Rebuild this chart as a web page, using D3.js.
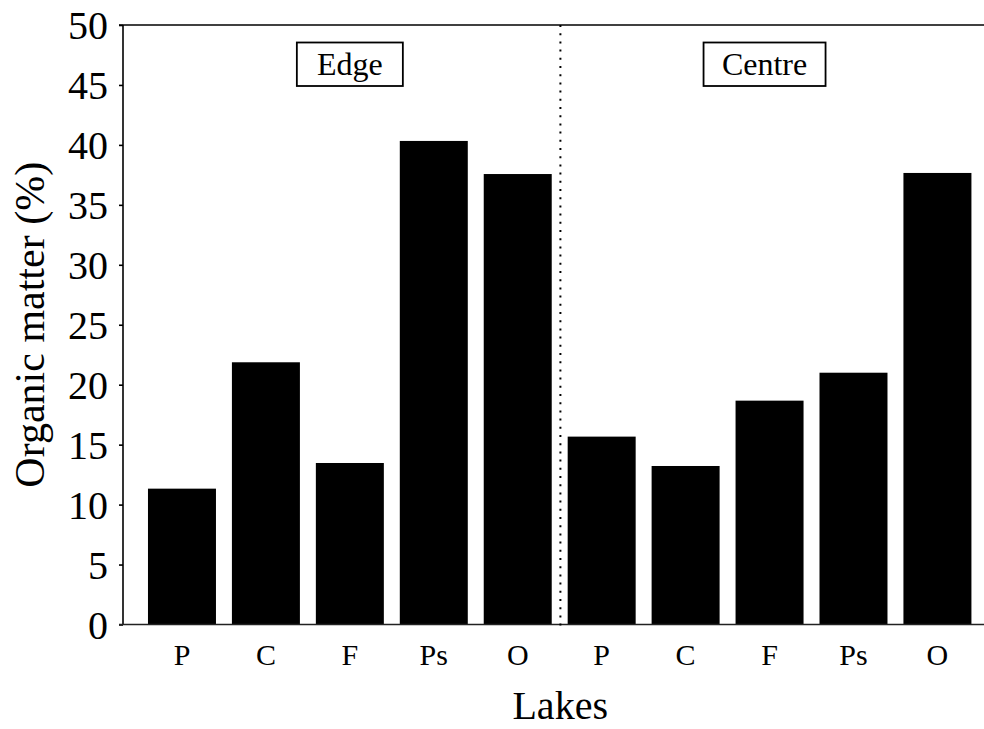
<!DOCTYPE html>
<html>
<head>
<meta charset="utf-8">
<script src="https://cdn.jsdelivr.net/npm/d3@7"></script>
<style>
  html, body { margin: 0; padding: 0; background: #fff; }
  svg { display: block; }
  svg text { font-family: "Liberation Serif", "Times New Roman", serif; }
</style>
</head>
<body>
<svg id="chart" width="984" height="729"></svg>
<script>
// ---- data ----
const lakes = ["P", "C", "F", "Ps", "O"];
const groups = ["Edge", "Centre"];
const edgeValues = [11.33, 21.87, 13.47, 40.33, 37.57];
const centreValues = [15.67, 13.22, 18.67, 21.0, 37.66];
const yTicks = [0, 5, 10, 15, 20, 25, 30, 35, 40, 45, 50];
const yTitle = "Organic matter (%)";
const xTitle = "Lakes";

(function () {
const rows = [];
lakes.forEach((l, i) => rows.push({ key: "Edge-" + l, group: "Edge", lake: l, value: edgeValues[i] }));
lakes.forEach((l, i) => rows.push({ key: "Centre-" + l, group: "Centre", lake: l, value: centreValues[i] }));

const svg = d3.select("#chart");
const axisLeft = 123, axisRight = 984, plotTop = 25, plotBottom = 624.5;

const x = d3.scaleBand()
  .domain(rows.map(d => d.key))
  .range([140, 979.4])
  .paddingInner(0.19)
  .paddingOuter(0.095);

const y = d3.scaleLinear().domain([0, 50]).range([plotBottom, plotTop]);

// bars
svg.append("g").selectAll("rect").data(rows).join("rect")
  .attr("x", d => x(d.key))
  .attr("y", d => y(d.value))
  .attr("width", x.bandwidth())
  .attr("height", d => y(0) - y(d.value))
  .attr("fill", "#000");

// y axis
const yAxis = svg.append("g")
  .attr("transform", `translate(${axisLeft},0)`)
  .call(d3.axisLeft(y).tickValues(yTicks).tickSize(4).tickPadding(11).tickFormat(d3.format("d")));
yAxis.attr("font-family", null);
yAxis.select(".domain").attr("stroke", "#000").attr("stroke-width", 1.6)
  .attr("d", `M0,${plotTop}V${plotBottom}`);
yAxis.selectAll(".tick line").attr("stroke", "#000").attr("stroke-width", 1.6);
yAxis.selectAll(".tick text")
  .style("font-family", "'Liberation Serif', 'Times New Roman', serif")
  .attr("font-size", 40)
  .attr("fill", "#000")
  .attr("dy", "0.34em");

// top line & bottom line
svg.append("line").attr("x1", axisLeft - 4).attr("x2", axisRight).attr("y1", plotTop).attr("y2", plotTop)
  .attr("stroke", "#000").attr("stroke-width", 1.6);
svg.append("line").attr("x1", axisLeft - 4).attr("x2", axisRight).attr("y1", plotBottom).attr("y2", plotBottom)
  .attr("stroke", "#222").attr("stroke-width", 1.6);

// x category labels
svg.append("g").selectAll("text").data(rows).join("text")
  .attr("x", d => x(d.key) + x.bandwidth() / 2)
  .attr("y", 665)
  .attr("text-anchor", "middle")
  .attr("font-size", 30)
  .attr("fill", "#000")
  .text(d => d.lake);

// dotted divider
const lastEdge = x("Edge-O") + x.bandwidth();
const firstCentre = x("Centre-P");
const divX = (lastEdge + firstCentre) / 2 + 0.7;
svg.append("line")
  .attr("x1", divX).attr("x2", divX)
  .attr("y1", plotTop).attr("y2", plotBottom + 3)
  .attr("stroke", "#000").attr("stroke-width", 2)
  .attr("stroke-dasharray", "2,6.2");

// group labels in boxes
const groupBoxes = [
  { name: groups[0], cx: (x("Edge-P") + x("Edge-O") + x.bandwidth()) / 2, w: 106 },
  { name: groups[1], cx: (x("Centre-P") + x("Centre-O") + x.bandwidth()) / 2 - 5, w: 122 }
];
groupBoxes.forEach(g => {
  svg.append("rect")
    .attr("x", g.cx - g.w / 2).attr("y", 42.5)
    .attr("width", g.w).attr("height", 43.5)
    .attr("fill", "#fff").attr("stroke", "#000").attr("stroke-width", 1.8);
  svg.append("text")
    .attr("x", g.cx).attr("y", 74.5)
    .attr("text-anchor", "middle")
    .attr("font-size", 32)
    .attr("fill", "#000")
    .text(g.name);
});

// axis titles
svg.append("text")
  .attr("x", (x.range()[0] + x.range()[1]) / 2 + 0.5)
  .attr("y", 719)
  .attr("text-anchor", "middle")
  .attr("font-size", 40)
  .attr("fill", "#000")
  .text(xTitle);

svg.append("text")
  .attr("transform", `translate(44,${(plotTop + plotBottom) / 2}) rotate(-90)`)
  .attr("text-anchor", "middle")
  .attr("font-size", 42)
  .attr("fill", "#000")
  .text(yTitle);
})();
</script>
</body>
</html>
